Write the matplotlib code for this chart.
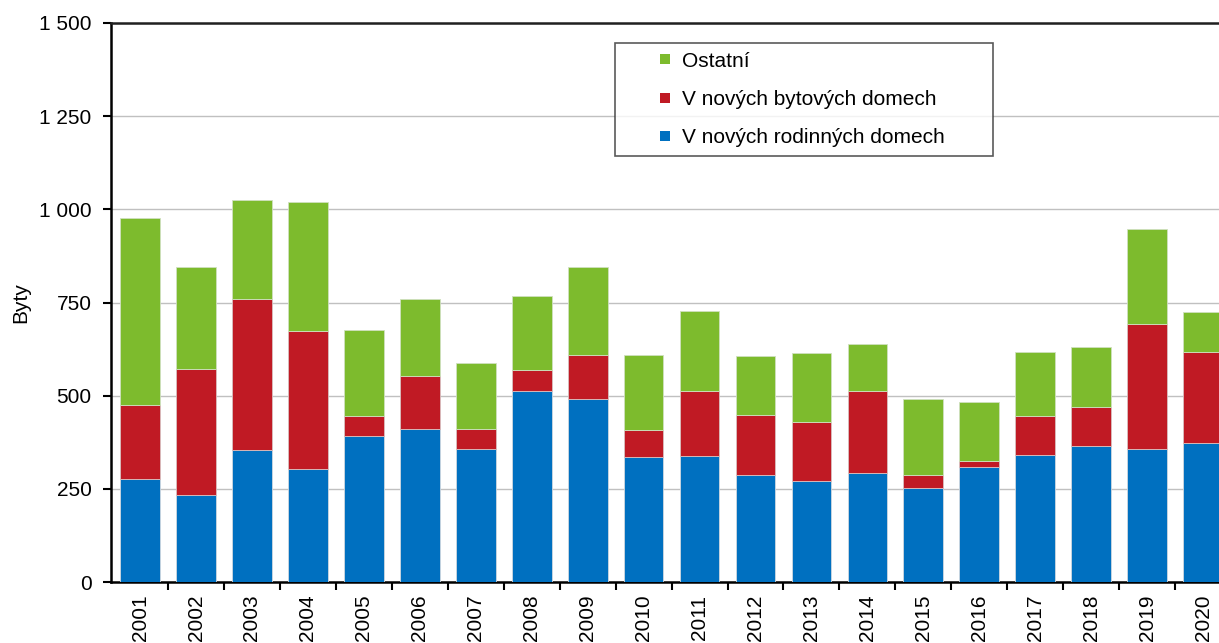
import matplotlib.pyplot as plt
import numpy as np
from matplotlib.lines import Line2D

plt.rcParams["font.family"] = ["Liberation Sans", "DejaVu Sans"]

years = [str(y) for y in range(2001, 2021)]
rodinne = [276, 233, 354, 303, 392, 410, 357, 512, 491, 335,
           338, 287, 271, 292, 252, 308, 341, 365, 357, 373]
bytove = [199, 339, 405, 370, 53, 143, 53, 57, 118, 73,
          174, 161, 158, 220, 35, 17, 104, 105, 335, 244]
ostatni = [502, 273, 266, 347, 231, 206, 178, 198, 236, 201,
           215, 158, 185, 126, 204, 158, 172, 160, 255, 107]

c_blue = "#0070C0"
c_red = "#C01A24"
c_green = "#7DBB2D"
fs = 15

fig = plt.figure(figsize=(12.19, 6.43), dpi=100)
ax = fig.add_axes([111 / 1219, 1 - 582 / 643, 1120 / 1219, 559 / 643])

x = np.arange(len(years))
w = 0.71
b1 = np.array(rodinne)
b2 = b1 + np.array(bytove)
ax.bar(x, rodinne, w, color=c_blue, edgecolor="#d0d8e0", linewidth=0.6, zorder=3)
ax.bar(x, bytove, w, bottom=b1, color=c_red, edgecolor="#d8c0c0", linewidth=0.6, zorder=3)
ax.bar(x, ostatni, w, bottom=b2, color=c_green, edgecolor="#d0e0c0", linewidth=0.6, zorder=3)

ax.set_xlim(-0.52, len(years) - 0.5)
ax.set_ylim(0, 1500)
ax.set_yticks(range(0, 1501, 250))
ax.set_yticklabels([f"{v:,}".replace(",", " ") for v in range(0, 1501, 250)])
ax.yaxis.grid(True, color="#c0c0c0", linewidth=1, zorder=0)
ax.set_axisbelow(True)

ax.set_xticks(x)
ax.set_xticklabels(years, rotation=90)
ax.set_xticks(np.arange(len(years) - 1) + 0.5, minor=True)
ax.tick_params(axis="x", which="major", length=0, pad=9, labelsize=fs)
ax.tick_params(axis="x", which="minor", length=6, width=1.5, direction="out")
ax.tick_params(axis="y", length=6, width=1.5, labelsize=fs, pad=8)

for s in ["left", "bottom", "top"]:
    ax.spines[s].set_linewidth(1.8)
ax.spines["top"].set_color("#202020")
ax.spines["right"].set_visible(False)

ax.set_ylabel("Byty", fontsize=fs)
ax.yaxis.set_label_coords((30 - 111) / 1120, 0.5)

# legend, top to bottom like the original
handles = [Line2D([], [], ls="", marker="s", markersize=7.5, color=c, markeredgewidth=0)
           for c in (c_green, c_red, c_blue)]
labels = ["Ostatní", "V nových bytových domech", "V nových rodinných domech"]
x0 = (615 - 111) / 1120
x1 = (993 - 111) / 1120
y1 = (582 - 43) / 559
leg = ax.legend(handles, labels, loc="upper left", mode="expand",
                bbox_to_anchor=(x0, y1 - 0.2, x1 - x0, 0.2),
                fontsize=fs, frameon=True, fancybox=False, edgecolor="#303030",
                handlelength=3.94, handletextpad=-1.15, labelspacing=0.92,
                borderpad=0.42, borderaxespad=0)
leg.get_frame().set_linewidth(1.2)

fig.savefig("out.png", dpi=100)
